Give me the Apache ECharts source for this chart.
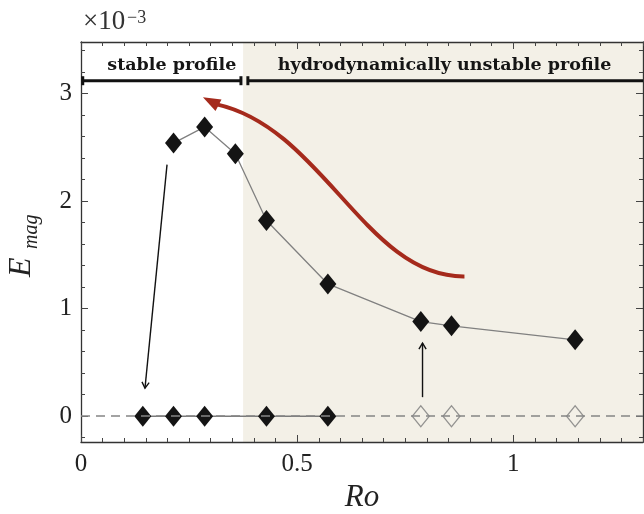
<!DOCTYPE html>
<html>
<head>
<meta charset="utf-8">
<script src="https://cdn.jsdelivr.net/npm/echarts@6/dist/echarts.min.js"></script>
<style>
  html, body { margin: 0; padding: 0; background: #fff; }
  #chart { width: 644px; height: 514px; }
</style>
</head>
<body>
<div id="chart"></div>
<script>
// Magnetic energy (in units of 1e-3) against Rossby number
const roSaturated   = [0.214, 0.286, 0.357, 0.429, 0.571, 0.786, 0.857, 1.143];
const emagSaturated = [2.54, 2.69, 2.44, 1.82, 1.23, 0.88, 0.84, 0.71];
const roDecayed     = [0.143, 0.214, 0.286, 0.429, 0.571];
const emagDecayed   = [0, 0, 0, 0, 0];
const roNoDynamo    = [0.786, 0.857, 1.143];
const emagNoDynamo  = [0, 0, 0];

const xTickLabels = [0, 0.5, 1];
const yTickLabels = [0, 1, 2, 3];
const xRange = [0, 1.3];
const yRange = [-0.24, 3.48];
const unstableFrom = 0.375;

// annotation anchors, in data units
const stableSpan = [0.004, 0.37];
const unstableSpan = [0.386, 1.3];
const bracketLevel = 3.12;
const bracketTextLevel = 3.26;
const stableText = { text: 'stable profile', at: 0.21 };
const unstableText = { text: 'hydrodynamically unstable profile', at: 0.841 };
const redCurve = { start: [0.887, 1.30], c1: [0.66, 1.29], c2: [0.56, 2.68], end: [0.314, 2.90], tip: [0.282, 2.967] };
const arrowDown = { from: [0.199, 2.34], to: [0.148, 0.26] };
const arrowUp = { from: [0.790, 0.177], to: [0.790, 0.68] };

const SERIF = '"Liberation Serif", "DejaVu Serif", serif';
const INK = '#222';

function steps(a, b, d) {
  const out = [];
  for (let v = a; v <= b + 1e-9; v += d) out.push(Math.round(v * 1000) / 1000);
  return out;
}
const xMinor = steps(0, 1.3, 0.05);
const yMinor = steps(-0.2, 3.4, 0.2);

const pairs = (xs, ys) => xs.map((x, i) => [x, ys[i]]);

const chart = echarts.init(document.getElementById('chart'), null, { renderer: 'canvas' });

const frameLine = { show: true, onZero: false, lineStyle: { color: '#333', width: 1.3 } };
const noLine = { show: false, onZero: false };

function xAx(position, ticks, len, withLabels) {
  return {
    type: 'value', position, min: xRange[0], max: xRange[1], z: 3,
    splitLine: { show: false },
    axisLine: withLabels !== null ? frameLine : noLine,
    axisTick: { inside: true, length: len, customValues: ticks, lineStyle: { color: '#444', width: 1 } },
    axisLabel: withLabels ? {
      customValues: xTickLabels, fontFamily: SERIF, fontSize: 25, color: INK, margin: 10,
      formatter: v => String(v)
    } : { show: false }
  };
}
function yAx(position, ticks, len, withLabels) {
  return {
    type: 'value', position, min: yRange[0], max: yRange[1], z: 3,
    splitLine: { show: false },
    axisLine: withLabels !== null ? frameLine : noLine,
    axisTick: { inside: true, length: len, customValues: ticks, lineStyle: { color: '#444', width: 1 } },
    axisLabel: withLabels ? {
      customValues: yTickLabels, fontFamily: SERIF, fontSize: 25, color: INK, margin: 9,
      formatter: v => String(v)
    } : { show: false }
  };
}

const xAxes = [
  xAx('bottom', xTickLabels, 7, true),
  xAx('bottom', xMinor, 4, null),
  xAx('top', xTickLabels, 7, false),
  xAx('top', xMinor, 4, null)
];
xAxes[0].name = 'Ro';
xAxes[0].nameLocation = 'middle';
xAxes[0].nameGap = 40;
xAxes[0].nameTextStyle = { fontFamily: SERIF, fontStyle: 'italic', fontSize: 31, color: INK };

const yAxes = [
  yAx('left', yTickLabels, 7, true),
  yAx('left', yMinor, 4, null),
  yAx('right', yTickLabels, 7, false),
  yAx('right', yMinor, 4, null)
];

const diamond = [17, 21];

chart.setOption({
  animation: false,
  grid: { left: 81, right: 1, top: 42, bottom: 72, containLabel: false, outerBoundsMode: 'none' },
  xAxis: xAxes,
  yAxis: yAxes,
  series: [
    {
      name: 'unstable region', type: 'line', data: [], z: 1, silent: true,
      markArea: { silent: true, itemStyle: { color: '#f3f0e7' }, data: [[{ xAxis: unstableFrom }, { xAxis: xRange[1] }]] }
    },
    {
      name: 'zero level', type: 'line', data: [], z: 2, silent: true,
      markLine: {
        silent: true, symbol: 'none', label: { show: false },
        lineStyle: { type: [9, 6], color: '#858585', width: 1.7 },
        data: [{ yAxis: 0 }]
      }
    },
    {
      name: 'saturated', type: 'line', z: 4, data: pairs(roSaturated, emagSaturated),
      symbol: 'diamond', symbolSize: diamond,
      itemStyle: { color: '#141414' }, lineStyle: { color: '#808080', width: 1.3 }
    },
    {
      name: 'decayed', type: 'line', z: 4, data: pairs(roDecayed, emagDecayed),
      symbol: 'diamond', symbolSize: diamond,
      itemStyle: { color: '#141414' }, lineStyle: { color: '#7a7a7a', width: 1.6 }
    },
    {
      name: 'no dynamo', type: 'scatter', z: 4, data: pairs(roNoDynamo, emagNoDynamo),
      symbol: 'diamond', symbolSize: diamond,
      itemStyle: { color: 'rgba(0,0,0,0)', borderColor: '#7a7a7a', borderWidth: 1.3 }
    }
  ]
});

// ---- annotations, placed through the grid's coordinate system ----
const px = p => chart.convertToPixel({ xAxisIndex: 0, yAxisIndex: 0 }, p);

function bracket(span, capLeft, capRight) {
  const a = px([span[0], bracketLevel]);
  const b = px([span[1], bracketLevel]);
  const els = [{ type: 'line', shape: { x1: a[0], y1: a[1], x2: b[0], y2: b[1] }, style: { stroke: '#111', lineWidth: 3 } }];
  if (capLeft) els.push({ type: 'line', shape: { x1: a[0], y1: a[1] - 4.5, x2: a[0], y2: a[1] + 4.5 }, style: { stroke: '#111', lineWidth: 3 } });
  if (capRight) els.push({ type: 'line', shape: { x1: b[0], y1: b[1] - 4.5, x2: b[0], y2: b[1] + 4.5 }, style: { stroke: '#111', lineWidth: 3 } });
  return els;
}
function label(item) {
  const c = px([item.at, bracketTextLevel]);
  return { type: 'text', x: c[0], y: c[1], style: { text: item.text, align: 'center', verticalAlign: 'middle', fill: '#151515', font: 'bold 17.5px "DejaVu Serif", serif' } };
}
function thinArrow(from, to) {
  const a = px(from), b = px(to);
  const dx = b[0] - a[0], dy = b[1] - a[1];
  const L = Math.hypot(dx, dy), ux = dx / L, uy = dy / L;
  const len = 6, w = 3.6;
  const p1 = [b[0] - ux * len - uy * w, b[1] - uy * len + ux * w];
  const p2 = [b[0] - ux * len + uy * w, b[1] - uy * len - ux * w];
  return [
    { type: 'line', shape: { x1: a[0], y1: a[1], x2: b[0], y2: b[1] }, style: { stroke: '#111', lineWidth: 1.4 } },
    { type: 'polyline', shape: { points: [p1, b, p2] }, style: { stroke: '#111', lineWidth: 1.4, fill: null } }
  ];
}
function redArrow(c) {
  const s = px(c.start), c1 = px(c.c1), c2 = px(c.c2), e = px(c.end), t = px(c.tip);
  const dx = t[0] - e[0], dy = t[1] - e[1];
  const L = Math.hypot(dx, dy), ux = dx / L, uy = dy / L;
  const w = 6.5;
  const base = [t[0] - ux * (L + 2), t[1] - uy * (L + 2)];
  return [
    { type: 'bezierCurve', shape: { x1: s[0], y1: s[1], cpx1: c1[0], cpy1: c1[1], cpx2: c2[0], cpy2: c2[1], x2: e[0], y2: e[1] },
      style: { stroke: '#a52a1c', lineWidth: 4, fill: null, lineCap: 'butt' } },
    { type: 'polygon', shape: { points: [t, [base[0] - uy * w, base[1] + ux * w], [base[0] + uy * w, base[1] - ux * w]] },
      style: { fill: '#a52a1c' } }
  ];
}

const annotations = [].concat(
  bracket(stableSpan, true, true),
  bracket(unstableSpan, true, false),
  [label(stableText), label(unstableText)],
  thinArrow(arrowDown.from, arrowDown.to),
  thinArrow(arrowUp.from, arrowUp.to),
  redArrow(redCurve)
);

// axis scale factor and vertical axis title
const scaleNote = [
  { type: 'text', x: 83, y: 22, style: { text: '\u00d710', verticalAlign: 'middle', fill: '#333', font: '27px "Liberation Serif", serif' } },
  { type: 'text', x: 127, y: 18, style: { text: '\u22123', verticalAlign: 'middle', fill: '#333', font: '18px "Liberation Serif", serif' } },
  {
    type: 'group', x: 33, y: 277, rotation: Math.PI / 2,
    children: [
      { type: 'text', x: 0, y: -11, style: { text: 'E', verticalAlign: 'middle', fill: INK, font: 'italic 32px "Liberation Serif", serif' } },
      { type: 'text', x: 28, y: -1, style: { text: 'mag', verticalAlign: 'middle', fill: INK, font: 'italic 20px "Liberation Serif", serif' } }
    ]
  }
];

chart.setOption({
  graphic: annotations.concat(scaleNote).map(el => Object.assign({ z: 10, silent: true }, el))
});
</script>
</body>
</html>
